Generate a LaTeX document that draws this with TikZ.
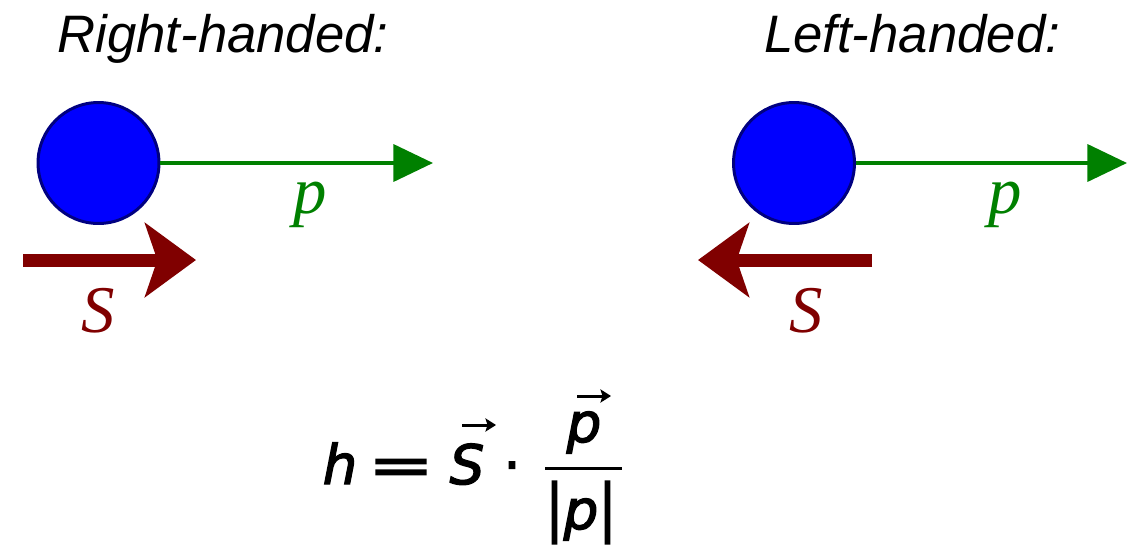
\documentclass[tikz,border=0pt]{standalone}
\usepackage{fontspec}
\usepackage{graphicx}
\setmainfont{Liberation Sans}
\newfontfamily\lblfont{Liberation Serif}
\newfontfamily\eqf[FakeBold=2.5]{DejaVu Sans}
\usetikzlibrary{arrows.meta}
\definecolor{pgreen}{HTML}{008000}
\definecolor{sred}{HTML}{800000}
\definecolor{ballblue}{HTML}{0000FF}
\definecolor{ballrim}{HTML}{000080}
\begin{document}
\begin{tikzpicture}[x=0.02cm,y=-0.02cm,
  title/.style={anchor=base,inner sep=0pt,font=\fontsize{30}{36}\selectfont\itshape},
  ball/.style={circle,draw=ballrim,fill=ballblue,line width=1.7pt,minimum size=2.42cm,inner sep=0pt},
  parrow/.style={draw=pgreen,line width=2.2pt,-{Triangle[length=22.5pt,width=21pt]}},
  sarrow/.style={draw=sred,line width=7.4pt,-{Stealth[length=29pt,width=42pt,inset=7pt]}},
  plabel/.style={anchor=base,inner sep=0pt,text=pgreen,font=\fontsize{38}{44}\lblfont\itshape},
  slabel/.style={anchor=base,inner sep=0pt,text=sred,font=\fontsize{38}{44}\lblfont\itshape},
  eq/.style={anchor=base,inner sep=0pt,font=\fontsize{31}{37}\eqf},
  vecarrow/.style={line width=1.7pt,-{Stealth[length=6pt,width=7.5pt,inset=1.2pt]}},
  fracbar/.style={line width=1.7pt}]
\useasboundingbox (0,0) rectangle (1141,548);
% left: right-handed
\node[title] (tR) at (223,52) {Right-handed:};
\node[ball] (b1) at (98.5,163) {};
\coordinate (p1end) at (433,163);
\draw[parrow] (b1.east) -- (p1end);
\node[plabel] (p1) at (310,213) {p};
\coordinate (s1start) at (23,260);
\coordinate (s1end) at (196,260);
\draw[sarrow] (s1start) -- (s1end);
\node[slabel] (s1) at (98,332) {S};
% right: left-handed
\node[title] (tL) at (912,52) {Left-handed:};
\node[ball] (b2) at (794,163) {};
\coordinate (p2end) at (1127,163);
\draw[parrow] (b2.east) -- (p2end);
\node[plabel] (p2) at (1005,213) {p};
\coordinate (s2start) at (872,260);
\coordinate (s2end) at (698,260);
\draw[sarrow] (s2start) -- (s2end);
\node[slabel] (s2) at (806,332) {S};
% formula h = S . p/|p|
\node[eq] (eqh) at (340,484) {\itshape h};
\node[eq] (eqeq) at (401,484) {\scalebox{1.45}[1]{=}};
\node[eq] (eqS) at (467,484) {\itshape S};
\coordinate (sv1) at (462,425);
\coordinate (sv2) at (496,425);
\draw[vecarrow] (sv1) -- (sv2);
\node[eq] (eqdot) at (512,484) {·};
\node[eq] (eqnum) at (584,442) {\itshape p};
\coordinate (pv1) at (577,396);
\coordinate (pv2) at (611,396);
\draw[vecarrow] (pv1) -- (pv2);
\coordinate (barL) at (545,468);
\coordinate (barR) at (622,468);
\draw[fracbar] (barL) -- (barR);
\node[eq] (eqden) at (581,529) {\scalebox{1}[1.15]{|}\itshape p\upshape\scalebox{1}[1.15]{|}};
\end{tikzpicture}
\end{document}
